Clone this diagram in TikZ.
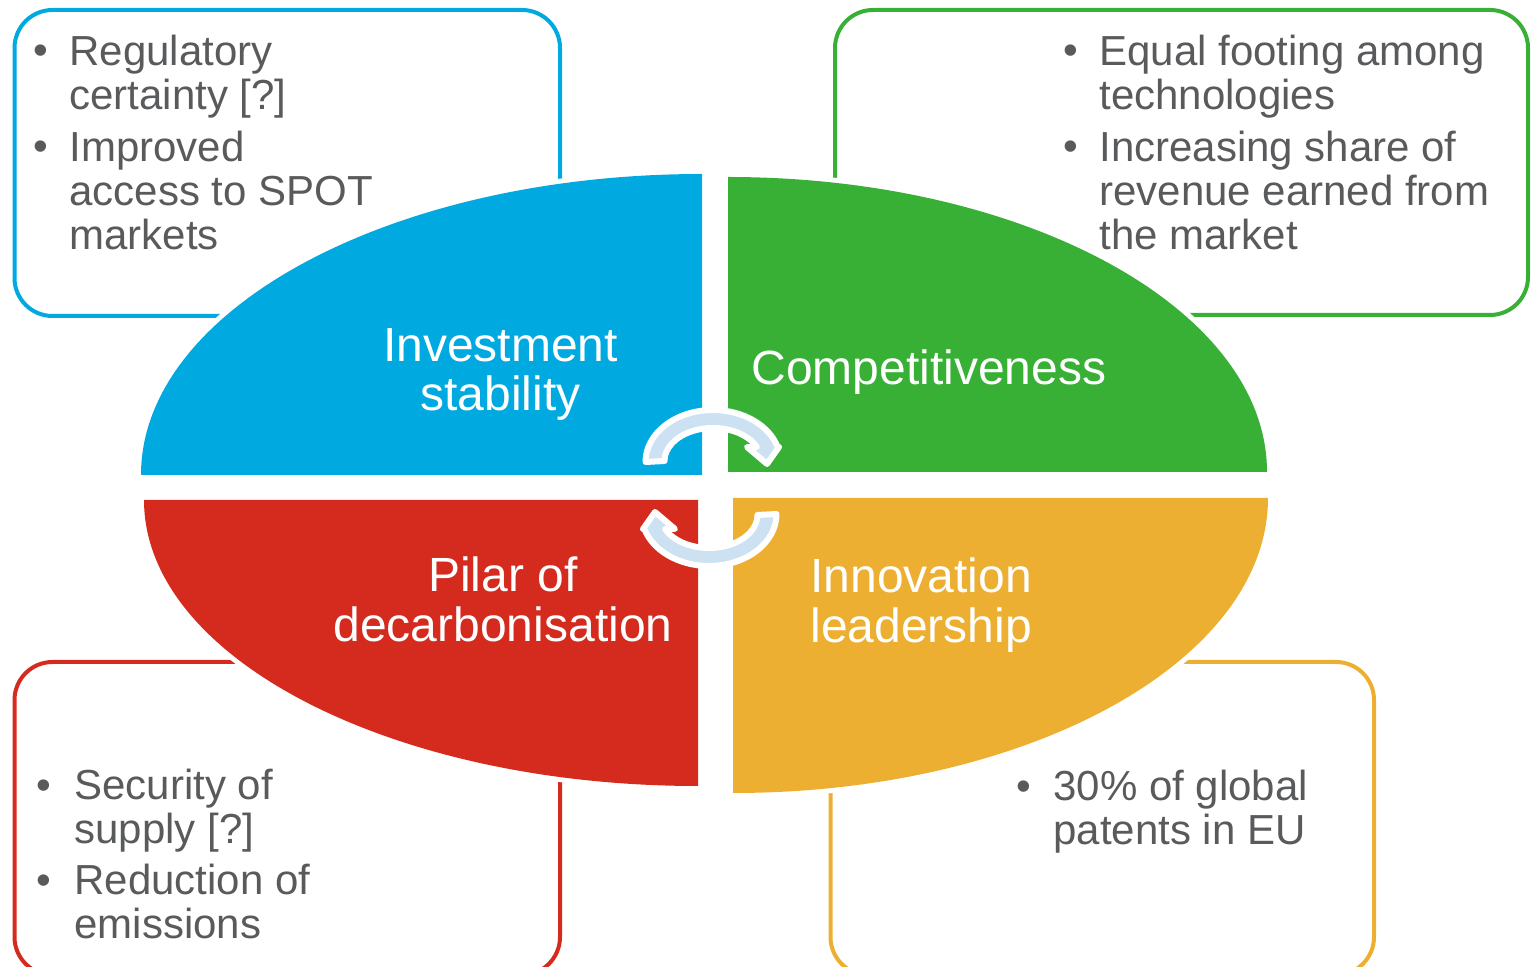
\documentclass[tikz,border=0pt]{standalone}
\usepackage{fontspec}
\setmainfont{Liberation Sans}
\definecolor{cblue}{HTML}{00A9E0}
\definecolor{cgreen}{HTML}{38B036}
\definecolor{cred}{HTML}{D52B1E}
\definecolor{cyellow}{HTML}{EDAF31}
\definecolor{carrow}{HTML}{CCE1F2}
\definecolor{cgray}{HTML}{595A5C}
\begin{document}
\begin{tikzpicture}[x=0.5pt,y=0.5pt,
  box/.style={line width=2pt, rounded corners=19pt},
  quad/.style={preaction={draw=white,line width=5pt,line join=round}},
  itemtext/.style={anchor=north west, inner sep=0pt, align=left, text=cgray, font=\fontsize{21pt}{22pt}\selectfont},
  bul/.style={anchor=base, inner sep=0pt, text=cgray, font=\fontsize{21pt}{22pt}\selectfont},
  lbl/.style={inner sep=0pt, text=white, font=\fontsize{24pt}{24.75pt}\selectfont},
  cyc/.style={fill=carrow, draw=white, line width=3pt, line join=round}]
\useasboundingbox (0,0) rectangle (1532,-967);
\clip (0,0) rectangle (1532,-967);
% outer boxes
\draw[box, draw=cblue] (14.5,-10) rectangle (560,-316);
\draw[box, draw=cgreen] (835,-10) rectangle (1528,-315);
\draw[box, draw=cred] (14.5,-662) rectangle (560,-975);
\draw[box, draw=cyellow] (830.5,-662) rectangle (1374,-975);
% quadrants
\path[quad, fill=cblue] (702,-475) -- (141,-475) arc[start angle=180, end angle=90, x radius=561, y radius=301] -- cycle;
\path[quad, fill=cgreen] (728,-472) -- (728,-177) arc[start angle=90, end angle=0, x radius=539, y radius=295] -- cycle;
\path[quad, fill=cred] (698,-500) -- (144,-500) arc[start angle=180, end angle=270, x radius=554, y radius=286] -- cycle;
\path[quad, fill=cyellow] (733,-498) -- (733,-793) arc[start angle=270, end angle=360, x radius=535, y radius=295] -- cycle;
% cycle arrows
\path[cyc] (645.5,-462) arc[start angle=180, end angle=16, x radius=67.5, y radius=52] -- (779,-447) -- (767,-464) -- (747,-447) -- (756.96,-447.05) arc[start angle=25, end angle=180, x radius=48.5, y radius=33] -- cycle;
\path[cyc, rotate around={180:(711,-488)}] (645.5,-462) arc[start angle=180, end angle=16, x radius=67.5, y radius=52] -- (779,-447) -- (767,-464) -- (747,-447) -- (756.96,-447.05) arc[start angle=25, end angle=180, x radius=48.5, y radius=33] -- cycle;
% quadrant labels
\node[lbl, anchor=north, align=center] (inv) at (500.5,-328) {Investment\\stability};
\node[lbl, anchor=base] (comp) at (929,-385) {Competitiveness};
\node[lbl, anchor=north, align=center] (pil) at (503,-556.5) {Pilar of\\decarbonisation};
\node[lbl, anchor=north west, align=left] (inn) at (810,-557.5) {Innovation\\leadership};
% blue box items
\node[bul] (bb1) at (41,-65) {•};
\node[itemtext] (tb1) at (69,-35) {Regulatory\\certainty [?]};
\node[bul] (bb2) at (41,-161) {•};
\node[itemtext] (tb2) at (69,-131) {Improved\\access to SPOT\\markets};
% green box items
\node[bul] (gb1) at (1071,-65) {•};
\node[itemtext] (tg1) at (1099,-35) {Equal footing among\\technologies};
\node[bul] (gb2) at (1071,-161) {•};
\node[itemtext] (tg2) at (1099,-131) {Increasing share of\\revenue earned from\\the market};
% red box items
\node[bul] (rb1) at (44,-799) {•};
\node[itemtext] (tr1) at (74,-769) {Security of\\supply [?]};
\node[bul] (rb2) at (44,-894) {•};
\node[itemtext] (tr2) at (74,-864) {Reduction of\\emissions};
% yellow box items
\node[bul] (yb1) at (1024,-800) {•};
\node[itemtext] (ty1) at (1053,-770) {30\% of global\\patents in EU};
\end{tikzpicture}
\end{document}
